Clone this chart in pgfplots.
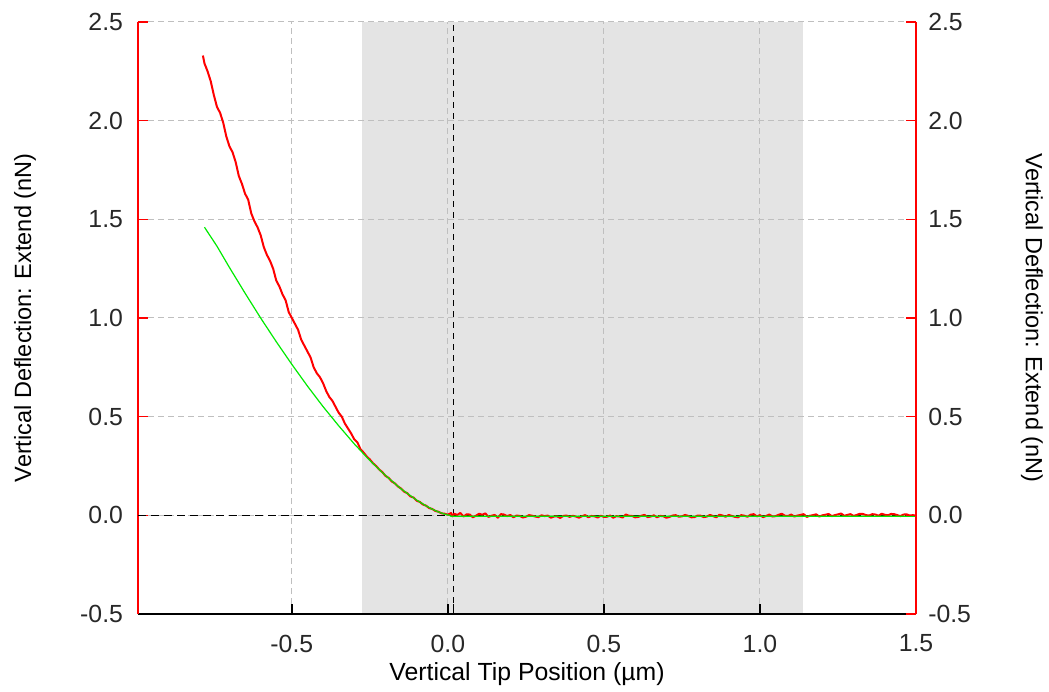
\documentclass[border=0pt]{standalone}
\usepackage{fontspec}
\setmainfont{Liberation Sans}
\usepackage{pgfplots}
\pgfplotsset{compat=1.18}
\definecolor{band}{RGB}{228,228,228}
\definecolor{fitgreen}{RGB}{0,235,0}
\definecolor{datared}{RGB}{255,0,0}
\definecolor{lbl}{RGB}{40,40,40}
\begin{document}
\fontsize{11.75}{14}\selectfont
\begin{tikzpicture}[font=\fontsize{11.75}{14}\selectfont]
\pgfplotsset{
  common/.style={
    scale only axis, width=389pt, height=296pt,
    xmin=-0.993, xmax=1.5, ymin=-0.5, ymax=2.5,
    ytick={-0.5,0,0.5,1,1.5,2,2.5},
    tick align=inside, major tick length=5pt,
    tick label style={font=\fontsize{12.4}{14}\selectfont, text=lbl,
      /pgf/number format/assume math mode=true,
      /pgf/number format/fixed,
      /pgf/number format/fixed zerofill,
      /pgf/number format/precision=1},
    label style={font=\fontsize{11.75}{14}\selectfont, text=lbl},
    ytick style={datared, line width=0.8pt},
    y axis line style={datared, -, line width=1pt},
  }
}
\begin{axis}[common, set layers,
  axis x line*=bottom, axis y line*=left,
  x axis line style={black, -, line width=1pt},
  xtick={-0.5,0,0.5,1,1.5},
  extra x ticks={0.018}, extra x tick labels={}, extra x tick style={grid=none},
  xtick style={black, line width=0.8pt},
  xticklabel style={yshift=-6.3pt},
  yticklabel style={xshift=-3.4pt},
  grid=major,
  major grid style={dash pattern=on 3pt off 2pt, black!25, line width=0.5pt},
  xlabel={Vertical Tip Position (µm)},
  ylabel={Vertical Deflection: Extend (nN)},
  every axis x label/.style={at={(rel axis cs:0.5,0)}, yshift=-33pt, anchor=base, font=\fontsize{12.4}{14}\selectfont},
  every axis y label/.style={at={(rel axis cs:0,0.5)}, xshift=-56.5pt, rotate=90, anchor=center},
]
\addplot[draw=none, fill=band, on layer=axis background, forget plot]
  coordinates {(-0.276,-0.5) (-0.276,2.5) (1.138,2.5) (1.138,-0.5)} -- cycle;
\addplot[black, line width=0.7pt, dash pattern=on 4pt off 2.5pt, forget plot]
  coordinates {(-0.993,0) (1.5,0)};
\addplot[black, line width=0.9pt, dash pattern=on 3pt off 2.5pt, forget plot]
  coordinates {(0.018,-0.5) (0.018,2.5)};
% measured (red)
\addplot[datared, line width=1pt, line join=round] coordinates {
(-0.785,2.33) (-0.78,2.29) (-0.77,2.25) (-0.76,2.20) (-0.75,2.13) (-0.74,2.07)
(-0.73,2.04) (-0.72,1.99) (-0.71,1.92) (-0.70,1.87) (-0.69,1.84) (-0.68,1.79)
(-0.67,1.72) (-0.66,1.68) (-0.65,1.63) (-0.64,1.60) (-0.63,1.53) (-0.62,1.49)
(-0.61,1.46) (-0.60,1.42) (-0.59,1.36) (-0.58,1.32) (-0.57,1.29) (-0.56,1.25)
(-0.55,1.19) (-0.54,1.16) (-0.53,1.12) (-0.52,1.09) (-0.51,1.03) (-0.50,1.00)
(-0.49,0.97) (-0.48,0.94) (-0.47,0.89) (-0.46,0.86) (-0.45,0.83) (-0.44,0.80)
(-0.43,0.75) (-0.42,0.72) (-0.41,0.70) (-0.40,0.67) (-0.39,0.63) (-0.38,0.60)
(-0.37,0.58) (-0.36,0.55) (-0.35,0.52) (-0.34,0.50) (-0.33,0.465) (-0.32,0.44)
(-0.31,0.415) (-0.30,0.385) (-0.29,0.37) (-0.28,0.335) (-0.27,0.318)
(-0.26,0.298) (-0.25,0.283) (-0.24,0.264) (-0.23,0.250) (-0.22,0.232)
(-0.21,0.219) (-0.20,0.200) (-0.19,0.190) (-0.18,0.172) (-0.17,0.162)
(-0.16,0.146) (-0.15,0.136) (-0.14,0.120) (-0.13,0.112) (-0.12,0.096)
(-0.11,0.090) (-0.10,0.074) (-0.09,0.068) (-0.08,0.055) (-0.07,0.049)
(-0.06,0.037) (-0.05,0.032) (-0.04,0.022) (-0.03,0.018) (-0.02,0.010)
(-0.01,0.008) (0.00,0.003) (0.01,0.012) (0.015,-0.005) (0.02,0.008)
(0.03,0.002) (0.04,0.012) (0.05,-0.006) (0.06,0.005) (0.07,0.004) (0.08,-0.010) (0.09,-0.002) (0.10,0.008) (0.11,0.003)
(0.12,0.010) (0.13,-0.008) (0.14,-0.002) (0.15,0.002) (0.16,-0.012) (0.17,0.006) (0.18,0.004) (0.19,-0.004) (0.20,0.002) (0.21,-0.010)
(0.22,-0.001) (0.23,-0.003) (0.24,-0.011) (0.25,-0.007) (0.26,0.001) (0.27,-0.002) (0.28,-0.006) (0.29,-0.009) (0.30,0.000) (0.31,-0.004)
(0.32,-0.001) (0.33,-0.012) (0.34,-0.006) (0.35,-0.005) (0.36,-0.013) (0.37,-0.003) (0.38,-0.001) (0.39,-0.008) (0.40,-0.002) (0.41,-0.006)
(0.42,-0.012) (0.43,-0.004) (0.44,0.001) (0.45,-0.010) (0.46,-0.003) (0.47,-0.005) (0.48,-0.011) (0.49,-0.002) (0.50,-0.008) (0.51,-0.007)
(0.52,-0.001) (0.53,-0.012) (0.54,-0.004) (0.55,-0.006) (0.56,-0.011) (0.57,0.004) (0.58,-0.002) (0.59,-0.003) (0.60,-0.010) (0.61,-0.008)
(0.62,-0.002) (0.63,0.002) (0.64,-0.009) (0.65,-0.006) (0.66,0.000) (0.67,-0.010) (0.68,-0.003) (0.69,-0.004) (0.70,-0.012) (0.71,-0.008)
(0.72,-0.001) (0.73,0.001) (0.74,-0.007) (0.75,-0.005) (0.76,0.002) (0.77,-0.003) (0.78,-0.010) (0.79,-0.009) (0.80,-0.001) (0.81,-0.002)
(0.82,-0.009) (0.83,-0.006) (0.84,0.002) (0.85,-0.004) (0.86,-0.010) (0.87,0.003) (0.88,-0.001) (0.89,-0.007) (0.90,0.002) (0.91,-0.003)
(0.92,-0.008) (0.93,-0.010) (0.94,0.001) (0.95,-0.002) (0.96,-0.007) (0.97,0.003) (0.98,0.006) (0.99,-0.005) (1.00,0.001) (1.01,-0.009)
(1.02,-0.003) (1.03,0.004) (1.04,-0.006) (1.05,-0.004) (1.06,0.003) (1.07,0.008) (1.08,-0.002) (1.09,-0.003) (1.10,0.004) (1.11,-0.006)
(1.12,-0.001) (1.13,0.002) (1.14,0.006) (1.15,-0.008) (1.16,-0.002) (1.17,0.001) (1.18,0.005) (1.19,-0.006) (1.20,0.000) (1.21,0.003)
(1.22,0.007) (1.23,-0.004) (1.24,0.001) (1.25,0.005) (1.26,0.009) (1.27,-0.002) (1.28,0.002) (1.29,0.006) (1.30,-0.003) (1.31,0.002)
(1.32,0.008) (1.33,0.007) (1.34,0.001) (1.35,-0.001) (1.36,0.006) (1.37,0.004) (1.38,-0.002) (1.39,0.008) (1.40,0.003) (1.41,0.000)
(1.42,0.007) (1.43,0.006) (1.44,0.001) (1.45,-0.004) (1.46,0.004) (1.47,0.005) (1.48,-0.001) (1.49,0.001) (1.50,-0.002)
};
% fit (green)
\addplot[fitgreen, line width=0.6pt] coordinates {
(-0.78,1.46) (-0.74,1.364) (-0.70,1.256) (-0.65,1.126) (-0.60,1.000)
(-0.55,0.880) (-0.50,0.765) (-0.45,0.655) (-0.40,0.551) (-0.35,0.454)
(-0.30,0.362) (-0.25,0.278) (-0.20,0.202) (-0.15,0.134) (-0.10,0.077)
(-0.07,0.048) (-0.05,0.031) (-0.03,0.017) (-0.01,0.006) (0.005,0.0)
(0.01,-0.005) (1.5,-0.005)
};
\coordinate (sw) at (rel axis cs:0,0);
\coordinate (ne) at (rel axis cs:1,1);
\end{axis}
\begin{axis}[common,
  axis x line=none, axis y line*=right,
  yticklabel style={xshift=2.0pt},
  ylabel={Vertical Deflection: Extend (nN)},
  every axis y label/.style={at={(rel axis cs:1,0.5)}, xshift=58pt, rotate=-90, anchor=center},
]
\end{axis}
\pgfresetboundingbox
\path[use as bounding box] ([shift={(-69pt,-38.5pt)}]sw) rectangle ([shift={(66.5pt,11pt)}]ne);
\end{tikzpicture}
\end{document}
